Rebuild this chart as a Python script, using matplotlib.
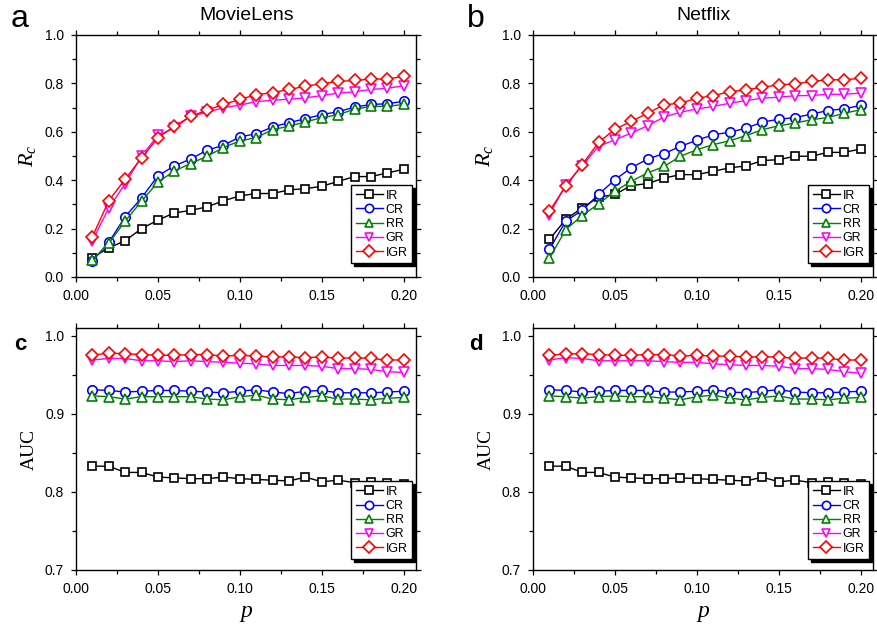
import matplotlib
matplotlib.use('Agg')
import matplotlib.pyplot as plt
from matplotlib.ticker import MultipleLocator, FormatStrFormatter

plt.rcParams['font.family'] = ['Liberation Sans', 'DejaVu Sans']
plt.rcParams.update({'mathtext.fontset': 'custom',
                     'mathtext.it': 'Liberation Serif:italic',
                     'mathtext.rm': 'Liberation Serif'})

# --- DATOS ---
p = [0.01, 0.02, 0.03, 0.04, 0.05, 0.06, 0.07, 0.08, 0.09, 0.10,
     0.11, 0.12, 0.13, 0.14, 0.15, 0.16, 0.17, 0.18, 0.19, 0.20]
methods = ['IR', 'CR', 'RR', 'GR', 'IGR']

# MovieLens, R_c
ml_rc_ir = [0.080, 0.120, 0.150, 0.200, 0.235, 0.265, 0.275, 0.290, 0.315, 0.335,
            0.345, 0.345, 0.360, 0.365, 0.375, 0.395, 0.415, 0.415, 0.430, 0.445]
ml_rc_cr = [0.066, 0.143, 0.249, 0.327, 0.418, 0.459, 0.488, 0.524, 0.544, 0.579,
            0.592, 0.620, 0.638, 0.654, 0.671, 0.683, 0.702, 0.713, 0.716, 0.726]
ml_rc_rr = [0.070, 0.139, 0.231, 0.313, 0.392, 0.438, 0.469, 0.499, 0.535, 0.562,
            0.576, 0.609, 0.623, 0.641, 0.658, 0.671, 0.693, 0.705, 0.705, 0.713]
ml_rc_gr = [0.150, 0.285, 0.385, 0.500, 0.585, 0.615, 0.665, 0.680, 0.700, 0.710,
            0.725, 0.730, 0.735, 0.740, 0.750, 0.760, 0.765, 0.775, 0.780, 0.790]
ml_rc_igr = [0.166, 0.315, 0.404, 0.492, 0.575, 0.623, 0.664, 0.689, 0.713, 0.734,
             0.753, 0.762, 0.775, 0.788, 0.799, 0.808, 0.812, 0.818, 0.818, 0.829]

# Netflix, R_c
nf_rc_ir = [0.155, 0.238, 0.286, 0.330, 0.341, 0.378, 0.386, 0.409, 0.423, 0.423,
            0.437, 0.451, 0.459, 0.481, 0.485, 0.499, 0.499, 0.515, 0.515, 0.529]
nf_rc_cr = [0.114, 0.231, 0.275, 0.341, 0.402, 0.451, 0.488, 0.510, 0.540, 0.565,
            0.588, 0.598, 0.615, 0.640, 0.652, 0.659, 0.673, 0.688, 0.695, 0.709]
nf_rc_rr = [0.077, 0.196, 0.254, 0.302, 0.354, 0.396, 0.430, 0.457, 0.499, 0.526,
            0.547, 0.563, 0.584, 0.609, 0.625, 0.636, 0.650, 0.659, 0.677, 0.691]
nf_rc_gr = [0.258, 0.382, 0.460, 0.540, 0.567, 0.595, 0.625, 0.661, 0.681, 0.694,
            0.705, 0.718, 0.729, 0.739, 0.743, 0.749, 0.750, 0.755, 0.755, 0.760]
nf_rc_igr = [0.272, 0.375, 0.464, 0.556, 0.611, 0.643, 0.677, 0.712, 0.718, 0.739,
             0.749, 0.766, 0.773, 0.784, 0.794, 0.798, 0.808, 0.815, 0.815, 0.821]

# MovieLens, AUC
ml_auc_ir = [0.833, 0.833, 0.825, 0.825, 0.819, 0.818, 0.817, 0.817, 0.819, 0.817,
             0.816, 0.815, 0.814, 0.819, 0.813, 0.815, 0.812, 0.813, 0.811, 0.810]
ml_auc_cr = [0.931, 0.930, 0.928, 0.929, 0.930, 0.930, 0.929, 0.928, 0.927, 0.929,
             0.931, 0.928, 0.926, 0.929, 0.930, 0.927, 0.927, 0.927, 0.928, 0.929]
ml_auc_rr = [0.923, 0.922, 0.919, 0.922, 0.922, 0.922, 0.922, 0.919, 0.918, 0.922,
             0.924, 0.919, 0.918, 0.921, 0.923, 0.919, 0.919, 0.918, 0.920, 0.921]
ml_auc_gr = [0.969, 0.971, 0.971, 0.968, 0.968, 0.967, 0.968, 0.967, 0.966, 0.965,
             0.964, 0.962, 0.962, 0.962, 0.961, 0.958, 0.958, 0.957, 0.954, 0.953]
ml_auc_igr = [0.975, 0.978, 0.977, 0.976, 0.975, 0.975, 0.976, 0.976, 0.974, 0.975,
              0.974, 0.973, 0.973, 0.972, 0.973, 0.971, 0.972, 0.971, 0.969, 0.969]

# Netflix, AUC
nf_auc_ir = [0.833, 0.833, 0.825, 0.825, 0.819, 0.818, 0.817, 0.817, 0.818, 0.817,
             0.816, 0.815, 0.814, 0.819, 0.813, 0.815, 0.812, 0.813, 0.811, 0.810]
nf_auc_cr = [0.931, 0.930, 0.928, 0.929, 0.930, 0.930, 0.930, 0.928, 0.928, 0.929,
             0.931, 0.928, 0.927, 0.929, 0.931, 0.928, 0.927, 0.927, 0.928, 0.929]
nf_auc_rr = [0.923, 0.922, 0.920, 0.922, 0.923, 0.922, 0.922, 0.920, 0.918, 0.922,
             0.924, 0.920, 0.918, 0.921, 0.923, 0.919, 0.919, 0.918, 0.920, 0.921]
nf_auc_gr = [0.969, 0.972, 0.971, 0.968, 0.968, 0.968, 0.968, 0.967, 0.966, 0.966,
             0.964, 0.963, 0.962, 0.962, 0.961, 0.958, 0.958, 0.957, 0.954, 0.952]
nf_auc_igr = [0.975, 0.977, 0.977, 0.976, 0.975, 0.975, 0.976, 0.976, 0.974, 0.975,
              0.974, 0.974, 0.973, 0.973, 0.973, 0.971, 0.972, 0.971, 0.969, 0.969]

# --- ESTILO DE CADA SERIE ---
colors = {'IR': 'black', 'CR': '#0000ff', 'RR': '#008000', 'GR': '#ff00ff', 'IGR': '#ff0000'}
markers = {'IR': 's', 'CR': 'o', 'RR': '^', 'GR': 'v', 'IGR': 'D'}
msizes = {'IR': 6, 'CR': 6.8, 'RR': 7.3, 'GR': 7.3, 'IGR': 6.6}

W, H = 877, 633
fig = plt.figure(figsize=(W / 100, H / 100), dpi=100)


def px_axes(x0, y0, x1, y1):
    return fig.add_axes([x0 / W, 1 - y1 / H, (x1 - x0) / W, (y1 - y0) / H])


ax_a = px_axes(76, 35, 416, 277)
ax_b = px_axes(533, 35, 873, 277)
ax_c = px_axes(76, 328, 416, 570)
ax_d = px_axes(533, 328, 873, 570)

panels = [
    (ax_a, [ml_rc_ir, ml_rc_cr, ml_rc_rr, ml_rc_gr, ml_rc_igr], 'rc'),
    (ax_b, [nf_rc_ir, nf_rc_cr, nf_rc_rr, nf_rc_gr, nf_rc_igr], 'rc'),
    (ax_c, [ml_auc_ir, ml_auc_cr, ml_auc_rr, ml_auc_gr, ml_auc_igr], 'auc'),
    (ax_d, [nf_auc_ir, nf_auc_cr, nf_auc_rr, nf_auc_gr, nf_auc_igr], 'auc'),
]

for ax, series, kind in panels:
    for name, vals in zip(methods, series):
        ax.plot(p, vals, color=colors[name], marker=markers[name], ms=msizes[name],
                mfc='white', mec=colors[name], mew=1.2, lw=1.0, label=name)

    ax.set_xlim(0, 0.2075)
    ax.xaxis.set_major_locator(MultipleLocator(0.05))
    ax.xaxis.set_minor_locator(MultipleLocator(0.025))
    ax.xaxis.set_major_formatter(FormatStrFormatter('%.2f'))
    if kind == 'rc':
        ax.set_ylim(0, 1.0)
        ax.yaxis.set_major_locator(MultipleLocator(0.2))
        ax.yaxis.set_minor_locator(MultipleLocator(0.1))
        ax.set_ylabel(r'$R_c$', fontsize=16, labelpad=5)
        leg_y = 0.058
    else:
        ax.set_ylim(0.7, 1.01)
        ax.yaxis.set_major_locator(MultipleLocator(0.1))
        ax.yaxis.set_minor_locator(MultipleLocator(0.05))
        ax.set_ylabel('AUC', family='Liberation Serif', fontsize=14, labelpad=5)
        ax.set_xlabel('p', family='Liberation Serif', style='italic', fontsize=17, labelpad=4)
        leg_y = 0.045
    ax.yaxis.set_major_formatter(FormatStrFormatter('%.1f'))

    ax.tick_params(which='both', direction='out', top=True, right=True,
                   labelsize=10, width=0.9, pad=5)
    ax.tick_params(which='major', length=3.5)
    ax.tick_params(which='minor', length=3)
    for sp in ax.spines.values():
        sp.set_linewidth(1.0)

    # leyenda con sombra negra
    leg = ax.legend(loc='lower right', bbox_to_anchor=(0.988, leg_y), borderaxespad=0,
                    fontsize=9, frameon=True, fancybox=False, edgecolor='black',
                    framealpha=1, shadow={'color': 'black', 'alpha': 1},
                    handlelength=2.2, handletextpad=0.2, labelspacing=0.18,
                    borderpad=0.35)
    leg.get_frame().set_linewidth(1.0)
    for h in leg.legend_handles:
        h.set_markersize(6)

# --- TITULOS Y LETRAS DE PANEL ---
fig.text(247 / W, 1 - 20 / H, 'MovieLens', ha='center', va='baseline', fontsize=14)
fig.text(703 / W, 1 - 20 / H, 'Netflix', ha='center', va='baseline', fontsize=14)
fig.text(20 / W, 1 - 27 / H, 'a', ha='center', va='baseline', fontsize=23)
fig.text(476 / W, 1 - 27 / H, 'b', ha='center', va='baseline', fontsize=23)
fig.text(20 / W, 1 - 350 / H, 'c', ha='center', va='baseline', fontsize=16, fontweight='bold')
fig.text(476 / W, 1 - 350 / H, 'd', ha='center', va='baseline', fontsize=16, fontweight='bold')

fig.savefig('out.png', dpi=100)
